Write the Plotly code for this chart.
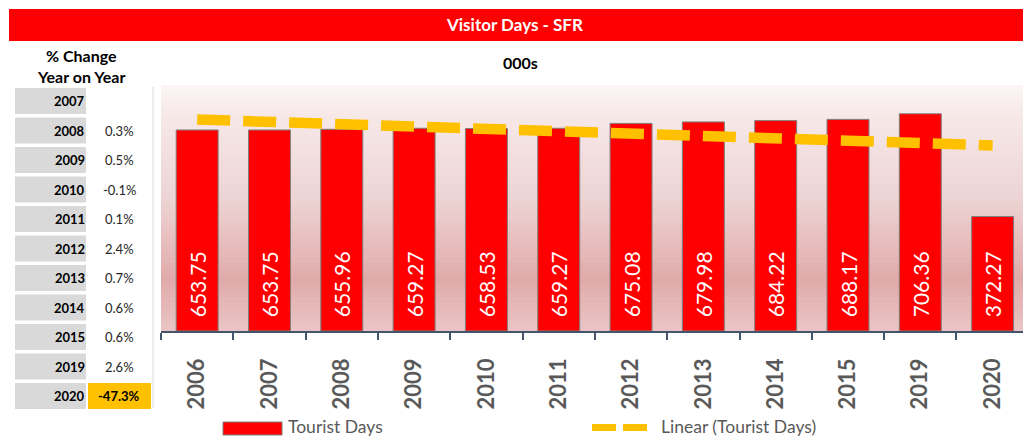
import numpy as np
import plotly.graph_objects as go

# ---------------- data ----------------
years = ["2006", "2007", "2008", "2009", "2010", "2011",
         "2012", "2013", "2014", "2015", "2019", "2020"]
tourist_days = [653.75, 653.75, 655.96, 659.27, 658.53, 659.27,
                675.08, 679.98, 684.22, 688.17, 706.36, 372.27]

table_years = ["2007", "2008", "2009", "2010", "2011", "2012",
               "2013", "2014", "2015", "2019", "2020"]
pct_change = ["", "0.3%", "0.5%", "-0.1%", "0.1%", "2.4%",
              "0.7%", "0.6%", "0.6%", "2.6%", "-47.3%"]

chart_title = "Visitor Days - SFR"
unit_label = "000s"
table_title = ["% Change", "Year on Year"]
bar_name = "Tourist Days"
trend_name = "Linear (Tourist Days)"

# linear trendline (as in the spreadsheet), fitted to the data
idx = np.arange(len(years))
coef = np.polyfit(idx, tourist_days, 1)
trend = np.polyval(coef, idx)

# ---------------- helpers ----------------
W, H = 1023, 438
FONT = "Lato, 'Open Sans', sans-serif"


def X(px):
    return px / W


def Y(py):
    return 1 - py / H


shapes = []
annotations = []

# gradient background of the plot area
stops = [(85, (252, 246, 246)), (115, (247, 232, 232)), (200, (237, 211, 211)),
         (280, (225, 170, 170)), (331, (234, 197, 197))]
top, bot = 85, 331
n_bands = 60
for i in range(n_bands):
    y0 = top + (bot - top) * i / n_bands
    y1 = top + (bot - top) * (i + 1) / n_bands
    ym = (y0 + y1) / 2
    for k in range(len(stops) - 1):
        if stops[k][0] <= ym <= stops[k + 1][0]:
            t = (ym - stops[k][0]) / (stops[k + 1][0] - stops[k][0])
            c = [round(stops[k][1][j] + t * (stops[k + 1][1][j] - stops[k][1][j])) for j in range(3)]
            break
    shapes.append(dict(type="rect", xref="paper", yref="paper", layer="below",
                       x0=X(161), x1=1, y0=Y(y1 + 0.5), y1=Y(y0),
                       fillcolor=f"rgb({c[0]},{c[1]},{c[2]})", line=dict(width=0)))

# title bar
shapes.append(dict(type="rect", xref="paper", yref="paper", x0=X(9), x1=1,
                   y0=Y(41), y1=Y(9), fillcolor="#FF0000", line=dict(width=0)))
annotations.append(dict(x=X(514), y=Y(25), xref="paper", yref="paper", text=chart_title,
                        showarrow=False, xanchor="center", yanchor="middle",
                        font=dict(family=FONT, size=17, color="white", weight="bold")))
annotations.append(dict(x=X(520), y=Y(62), xref="paper", yref="paper", text=unit_label,
                        showarrow=False, xanchor="center", yanchor="middle",
                        font=dict(family=FONT, size=16, color="black", weight="bold")))
for j, t in enumerate(table_title):
    annotations.append(dict(x=X(81), y=Y(55 + 21 * j), xref="paper", yref="paper", text=t,
                            showarrow=False, xanchor="center", yanchor="middle",
                            font=dict(family=FONT, size=16, color="black", weight="bold")))

# left table
row_top, pitch, cell_h = 88, 29.5, 26
for i, (yr, pc) in enumerate(zip(table_years, pct_change)):
    y0 = row_top + pitch * i
    shapes.append(dict(type="rect", xref="paper", yref="paper", x0=X(15), x1=X(86),
                       y0=Y(y0 + cell_h), y1=Y(y0), fillcolor="#D9D9D9", line=dict(width=0)))
    yc = y0 + cell_h / 2
    annotations.append(dict(x=X(87), y=Y(yc), xref="paper", yref="paper", text=yr,
                            showarrow=False, xanchor="right", yanchor="middle",
                            font=dict(family=FONT, size=13, color="black", weight="bold")))
    highlight = pc.startswith("-") and float(pc.rstrip("%")) < -10
    if highlight:
        shapes.append(dict(type="rect", xref="paper", yref="paper", x0=X(88), x1=X(151),
                           y0=Y(y0 + cell_h), y1=Y(y0), fillcolor="#FFC000", line=dict(width=0)))
    if pc:
        annotations.append(dict(x=X(119), y=Y(yc), xref="paper", yref="paper", text=pc,
                                showarrow=False, xanchor="center", yanchor="middle",
                                font=dict(family=FONT, size=13, color="black" if highlight else "#262626",
                                          weight="bold" if highlight else "normal")))
shapes.append(dict(type="line", xref="paper", yref="paper", x0=X(153), x1=X(153),
                   y0=Y(408), y1=Y(87), line=dict(color="#D9D9D9", width=1)))

# legend (drawn manually for the wide swatches)
shapes.append(dict(type="rect", xref="paper", yref="paper", x0=X(223), x1=X(282),
                   y0=Y(435), y1=Y(422), fillcolor="#FF0000", line=dict(color="#7F7F7F", width=1)))
annotations.append(dict(x=X(287), y=Y(426), xref="paper", yref="paper", text=bar_name,
                        showarrow=False, xanchor="left", yanchor="middle", borderpad=0,
                        font=dict(family=FONT, size=17.5, color="#595959")))
shapes.append(dict(type="line", xref="paper", yref="paper", x0=X(592), x1=X(647),
                   y0=Y(427.5), y1=Y(427.5), line=dict(color="#FFC000", width=7, dash="24px,7px")))
annotations.append(dict(x=X(660), y=Y(426), xref="paper", yref="paper", text=trend_name,
                        showarrow=False, xanchor="left", yanchor="middle", borderpad=0,
                        font=dict(family=FONT, size=17.5, color="#595959")))

# ---------------- figure ----------------
fig = go.Figure()
fig.add_bar(
    x=years, y=tourist_days, name=bar_name, width=0.58,
    marker=dict(color="#FF0000", line=dict(color="#7F7F7F", width=1)),
    text=[f"\u00a0\u00a0{v:.2f}" for v in tourist_days],
    textposition="inside", insidetextanchor="start", textangle=-90,
    insidetextfont=dict(family=FONT, size=21, color="white"),
    constraintext="none", showlegend=False,
)
fig.add_scatter(
    x=years, y=trend, name=trend_name, mode="lines",
    line=dict(color="#FFC000", width=10.5, dash="33px,13px"),
    showlegend=False,
)

fig.update_layout(
    width=W, height=H,
    margin=dict(l=0, r=0, t=0, b=0),
    paper_bgcolor="white", plot_bgcolor="white",
    font=dict(family=FONT),
    shapes=shapes, annotations=annotations,
    xaxis=dict(
        domain=[X(161), 1], type="category", range=[-0.5, 11.42],
        showgrid=False, zeroline=False,
        showline=True, linecolor="#44546A", linewidth=1.5,
        ticks="outside", tickson="boundaries", ticklen=7, tickcolor="#44546A", tickwidth=1.5,
        tickangle=-90, ticklabelstandoff=17,
        tickfont=dict(family=FONT, size=22, color="#595959", weight="bold"),
    ),
    yaxis=dict(
        domain=[Y(331), Y(85)], range=[0, 800],
        showgrid=False, zeroline=False, showticklabels=False, showline=False, ticks="",
    ),
)

fig.write_html("out.html")
